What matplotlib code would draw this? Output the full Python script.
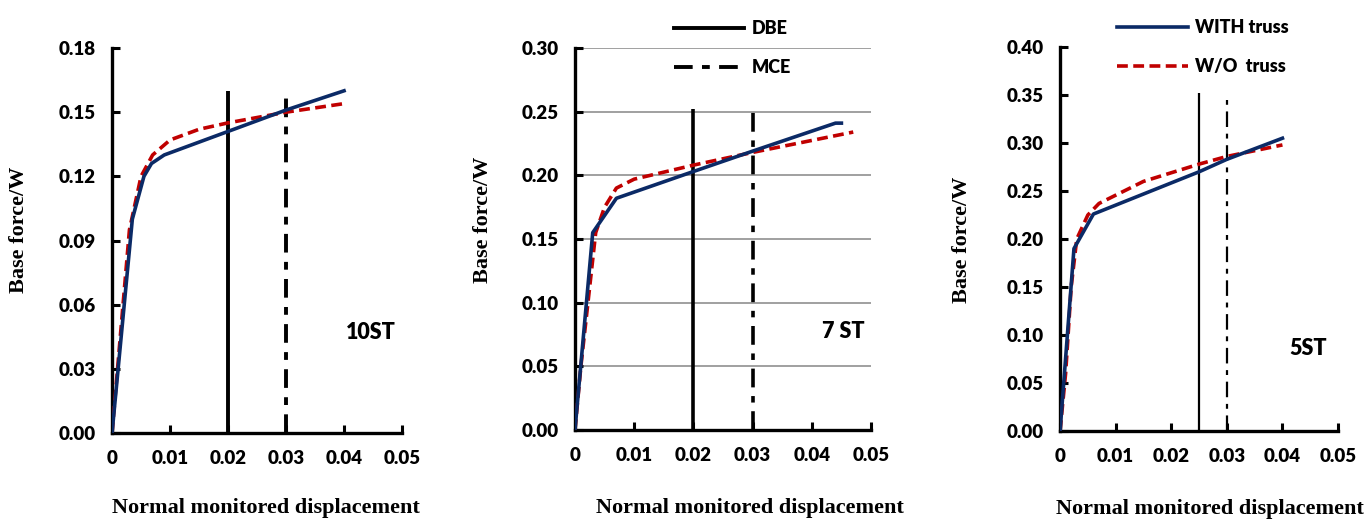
import numpy as np
import matplotlib
matplotlib.use("Agg")
import matplotlib.pyplot as plt
from matplotlib.lines import Line2D

# pushover curves (drift ratio, base force / W)
st10_with_x = [0, 0.0035, 0.0055, 0.0068, 0.009, 0.02, 0.03, 0.04]
st10_with_y = [0, 0.100, 0.120, 0.126, 0.130, 0.141, 0.151, 0.160]
st10_wo_x = [0, 0.003, 0.005, 0.007, 0.010, 0.015, 0.02, 0.03, 0.04]
st10_wo_y = [0, 0.095, 0.120, 0.130, 0.137, 0.142, 0.145, 0.150, 0.154]

st7_with_x = [0, 0.003, 0.007, 0.02, 0.03, 0.044, 0.045]
st7_with_y = [0, 0.155, 0.182, 0.203, 0.219, 0.241, 0.241]
st7_wo_x = [0, 0.001, 0.0035, 0.005, 0.007, 0.010, 0.02, 0.03, 0.047]
st7_wo_y = [0, 0.050, 0.155, 0.175, 0.190, 0.197, 0.208, 0.218, 0.234]

st5_with_x = [0, 0.0025, 0.006, 0.025, 0.03, 0.04]
st5_with_y = [0, 0.190, 0.226, 0.270, 0.283, 0.305]
st5_wo_x = [0, 0.001, 0.002, 0.003, 0.005, 0.007, 0.015, 0.025, 0.03, 0.04]
st5_wo_y = [0, 0.060, 0.150, 0.200, 0.225, 0.237, 0.260, 0.278, 0.286, 0.298]

# DBE / MCE drift limits and the height the markers are drawn to
dbe_x = [0.02, 0.02, 0.025]
mce_x = [0.03, 0.03, 0.03]
dbe_top = [0.16, 0.252, 0.352]
mce_top = [0.16, 0.252, 0.345]

panel_names = ["10ST", "7 ST", "5ST"]
y_max = [0.18, 0.30, 0.40]
y_step = [0.03, 0.05, 0.05]
x_ticks = [0, 0.01, 0.02, 0.03, 0.04, 0.05]
x_tick_labels = ["0", "0.01", "0.02", "0.03", "0.04", "0.05"]

BLUE = "#0b2a66"
RED = "#c00000"
TICK_FONT = "Lato"
LABEL_FONT = "Liberation Serif"

fig = plt.figure(figsize=(13.68, 5.19), dpi=100)
rects = [
    [0.0819, 0.1657, 0.2120, 0.7418],
    [0.4203, 0.1715, 0.2164, 0.7360],
    [0.7749, 0.1696, 0.2032, 0.7398],
]
axes = [fig.add_axes(r) for r in rects]

curves = [
    (st10_with_x, st10_with_y, st10_wo_x, st10_wo_y),
    (st7_with_x, st7_with_y, st7_wo_x, st7_wo_y),
    (st5_with_x, st5_with_y, st5_wo_x, st5_wo_y),
]
vline_w = [2.8, 2.6, 1.6]
mce_dash = [(4.8, 2.4, 2.0, 2.4), (5.2, 2.4, 1.8, 2.4), (7.0, 3.0, 2.2, 3.0)]
xlabel_pos = [(0.53, -0.17), (0.59, -0.179), (0.54, -0.176)]
ylabel_pos = [(-0.286, 0.527), (-0.277, 0.55), (-0.317, 0.497)]
name_pos = [(0.0447, 0.047), (0.0453, 0.077), (0.0446, 0.086)]

for i, ax in enumerate(axes):
    wx, wy, ox, oy = curves[i]
    yt = np.round(np.arange(0, y_max[i] + 1e-9, y_step[i]), 2)

    if i == 1:
        for v in yt[1:]:
            ax.axhline(v, color="#999999", lw=1.3, zorder=0)

    ax.plot([dbe_x[i], dbe_x[i]], [0, dbe_top[i]], color="black",
            lw=vline_w[i], solid_capstyle="butt", zorder=2)
    ax.plot([mce_x[i], mce_x[i]], [0, mce_top[i]], color="black",
            lw=vline_w[i], dashes=mce_dash[i], zorder=2)

    ax.plot(ox, oy, color=RED, lw=2.6, dashes=(3.0, 1.5), zorder=3)
    ax.plot(wx, wy, color=BLUE, lw=2.6, zorder=4)

    ax.set_xlim(0, 0.05)
    ax.set_ylim(0, y_max[i])
    ax.set_xticks(x_ticks)
    ax.set_xticklabels(x_tick_labels)
    ax.set_yticks(yt)
    ax.set_yticklabels([f"{v:.2f}" for v in yt])
    ax.tick_params(direction="in", length=6, width=2.2, pad=12,
                   labelsize=13.5)
    for lab in ax.get_xticklabels() + ax.get_yticklabels():
        lab.set_fontfamily(TICK_FONT)
        lab.set_fontweight("heavy")

    for s in ["top", "right"]:
        ax.spines[s].set_visible(False)
    for s in ["left", "bottom"]:
        ax.spines[s].set_linewidth(2.4)

    ax.set_xlabel("Normal monitored displacement", fontfamily=LABEL_FONT,
                  fontweight="bold", fontsize=16)
    ax.xaxis.set_label_coords(*xlabel_pos[i])
    ax.set_ylabel("Base force/W", fontfamily=LABEL_FONT,
                  fontweight="bold", fontsize=16)
    ax.yaxis.set_label_coords(*ylabel_pos[i])

    ax.text(name_pos[i][0], name_pos[i][1], panel_names[i], ha="center",
            va="center", fontfamily=TICK_FONT, fontweight="heavy",
            fontsize=15.5)

# limit-state legend over the middle panel
lim_handles = [
    Line2D([], [], color="black", lw=2.8),
    Line2D([], [], color="black", lw=2.8, dashes=(4.8, 2.4, 2.0, 2.4)),
]
axes[1].legend(lim_handles, ["DBE", "MCE"], loc="center left",
               bbox_to_anchor=(0.31, 1.0), frameon=False,
               handlelength=3.9, labelspacing=1.2, handletextpad=0.4,
               borderaxespad=0,
               prop={"family": TICK_FONT, "weight": "heavy", "size": 13})

# truss legend over the right panel
cur_handles = [
    Line2D([], [], color=BLUE, lw=2.6),
    Line2D([], [], color=RED, lw=2.6, dashes=(3.0, 1.5)),
]
axes[2].legend(cur_handles, ["WITH truss", "W/O  truss"], loc="center left",
               bbox_to_anchor=(0.18, 1.0), frameon=False,
               handlelength=3.9, labelspacing=1.2, handletextpad=0.4,
               borderaxespad=0,
               prop={"family": TICK_FONT, "weight": "heavy", "size": 13})

fig.savefig("out.png", dpi=100)
